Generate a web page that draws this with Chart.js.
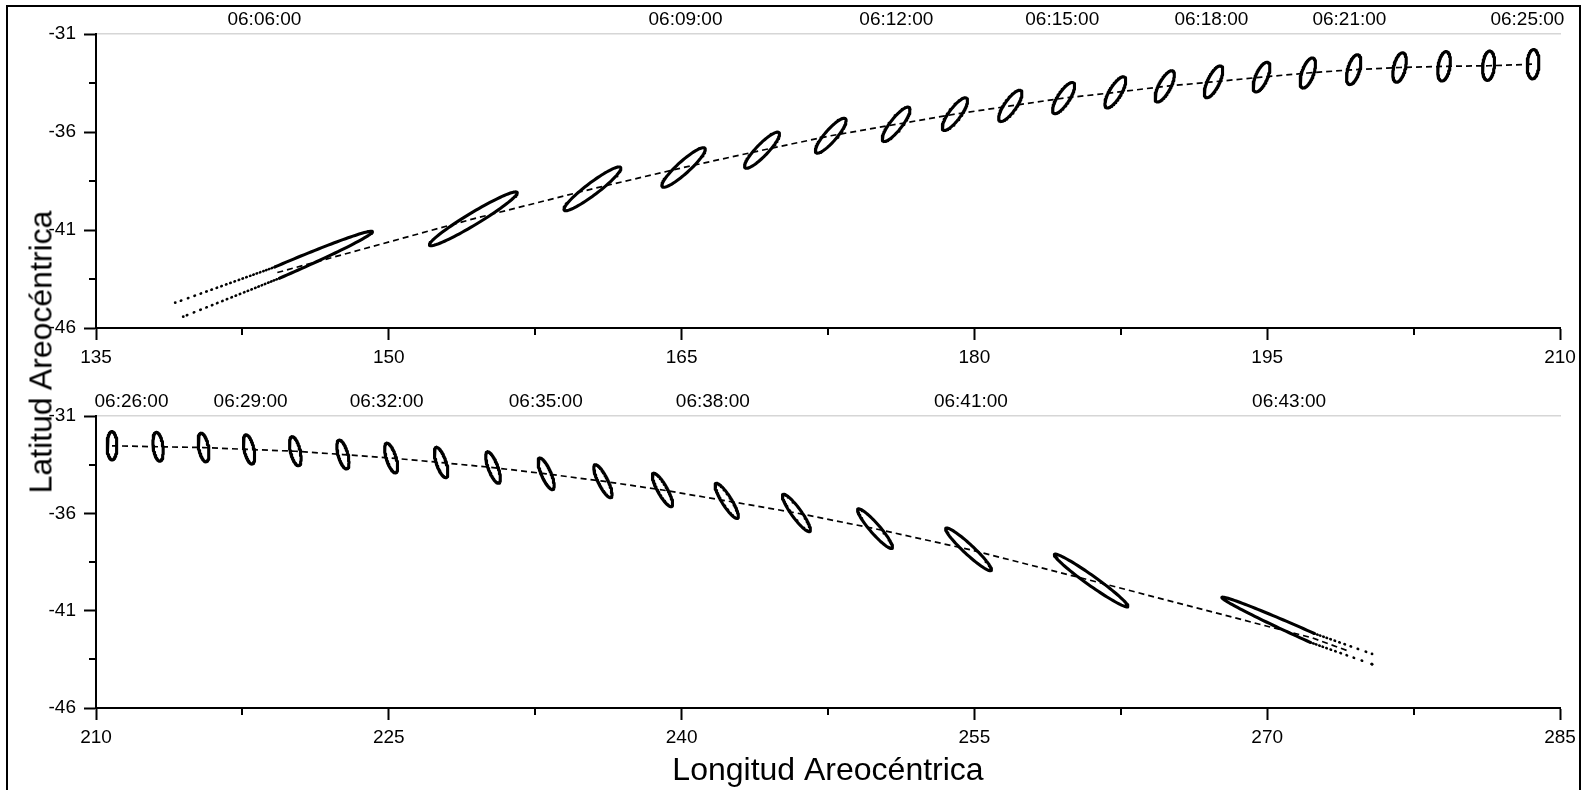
<!DOCTYPE html>
<html>
<head>
<meta charset="utf-8">
<title>Traza sobre Marte</title>
<script src="https://cdn.jsdelivr.net/npm/chart.js@4.4.1/dist/chart.umd.min.js"></script>
<style>
  html, body { margin: 0; padding: 0; background: #fff; }
  #wrap { position: relative; width: 1587px; height: 790px; overflow: hidden; font-family: "Liberation Sans", Arial, sans-serif; }
  #frame { position: absolute; left: 6px; top: 5px; width: 1575px; height: 820px; border: 2.5px solid #000; box-sizing: border-box; }
  canvas { position: absolute; left: 0; }
  #c1 { top: 0; }
  #c2 { top: 382px; }
  #ytitle { position: absolute; left: 41px; top: 352px; transform: translate(-50%, -50%) rotate(-90deg); font-size: 32px; white-space: nowrap; color: #000; }
</style>
</head>
<body>
<div id="wrap">
  <div id="frame"></div>
  <canvas id="c1" width="1587" height="384"></canvas>
  <canvas id="c2" width="1587" height="408"></canvas>
  <div id="ytitle">Latitud Areocéntrica</div>
</div>
<script>
// ---- 06:06 a 06:25 (panel superior) ----
const lonTop   = [144.29, 154.33, 160.43, 165.10, 169.12, 172.64, 175.99, 179.00, 181.84, 184.57,
                  187.22, 189.75, 192.25, 194.71, 197.08, 199.43, 201.78, 204.06, 206.34, 208.62];
const latTop   = [-43.17, -40.43, -38.90, -37.81, -36.93, -36.19, -35.61, -35.09, -34.67, -34.27,
                  -33.98, -33.67, -33.44, -33.20, -32.99, -32.82, -32.71, -32.65, -32.62, -32.54];
const majorTop = [5.30, 2.62, 1.81, 1.47, 1.25, 1.15, 1.09, 1.01, 0.95, 0.93,
                  0.91, 0.89, 0.89, 0.82, 0.81, 0.79, 0.77, 0.76, 0.75, 0.75];
const minorTop = [0.31, 0.31, 0.31, 0.31, 0.30, 0.30, 0.30, 0.30, 0.30, 0.30,
                  0.30, 0.30, 0.30, 0.30, 0.30, 0.30, 0.30, 0.30, 0.30, 0.30];
const tiltTop  = [23.2, 31, 37, 42, 46, 49, 52, 53.5, 55, 57, 59, 62, 64, 66, 70, 73, 76, 80, 84, 87];
const timesTop   = ['06:06:00', '06:09:00', '06:12:00', '06:15:00', '06:18:00', '06:21:00', '06:25:00'];
const timeLonTop = [143.63, 165.20, 176.00, 184.50, 192.14, 199.21, 208.33];
// puntos finales de las dos colas de la primera huella
const tailLonTop = [139.06, 139.47];
const tailLatTop = [-44.71, -45.42];

// ---- 06:26 a 06:43 (panel inferior) ----
const lonBot   = [210.82, 213.18, 215.51, 217.84, 220.21, 222.65, 225.12, 227.68, 230.34,
                  233.06, 235.97, 239.02, 242.31, 245.88, 249.91, 254.70, 260.98, 272.31];
const latBot   = [-32.53, -32.58, -32.62, -32.72, -32.81, -32.98, -33.16, -33.39, -33.65,
                  -33.97, -34.35, -34.80, -35.36, -35.98, -36.79, -37.85, -39.45, -42.40];
const majorBot = [0.73, 0.745, 0.745, 0.765, 0.765, 0.765, 0.795, 0.815, 0.855,
                  0.875, 0.935, 0.975, 1.055, 1.175, 1.335, 1.59, 2.31, 5.08];
const minorBot = [0.25, 0.25, 0.25, 0.25, 0.25, 0.25, 0.25, 0.25, 0.25,
                  0.25, 0.25, 0.25, 0.25, 0.25, 0.25, 0.25, 0.25, 0.25];
const tiltBot  = [90, 97, 100, 102, 103, 105, 107, 108, 110, 113, 116, 119, 122, 126, 131, 137, 144.5, 155.8];
const timesBot   = ['06:26:00', '06:29:00', '06:32:00', '06:35:00', '06:38:00', '06:41:00', '06:43:00'];
const timeLonBot = [211.82, 217.92, 224.89, 233.04, 241.60, 254.82, 271.12];
const tailLonBot = [275.37, 275.37];
const tailLatBot = [-43.75, -43.22];
// la traza sigue un poco mas alla de la ultima huella
const trackEndBot = [274.26, -43.11];

// ---- ejes ----
const latTicks = [-46, -41, -36, -31];
const latMinor = [-43.5, -38.5, -33.5];
const lonTicksTop = [135, 150, 165, 180, 195, 210];
const lonMinorTop = [142.5, 157.5, 172.5, 187.5, 202.5];
const lonTicksBot = [210, 225, 240, 255, 270, 285];
const lonMinorBot = [217.5, 232.5, 247.5, 262.5, 277.5];

Chart.defaults.font.family = '"Liberation Sans", Arial, sans-serif';
Chart.defaults.color = '#000';

// contorno de una elipse (centro, semiejes en grados, inclinacion) entre dos angulos
function outline(lon, lat, a, b, tilt, from, to, n) {
  const r = tilt * Math.PI / 180, ux = Math.cos(r), uy = Math.sin(r);
  const pts = [];
  for (let i = 0; i <= n; i++) {
    const t = (from + (to - from) * i / n) * Math.PI / 180;
    const p = a * Math.cos(t), q = b * Math.sin(t);
    pts.push({ x: lon + p * ux - q * uy, y: lat + p * uy + q * ux });
  }
  return pts;
}

// separacion creciente de los puntos de las colas
const dots = gaps => gaps.flatMap(g => [0.5, g]);
const longTail  = dots([2.5, 2.5, 2.5, 2.5, 3, 3, 3, 3, 3.5, 3.5, 3.5, 4, 4, 4, 4.5, 4.5, 5, 5, 5.5, 6, 6.5, 7, 7.5, 8, 9, 10]);
const shortTail = dots([2.5, 2.5, 3, 3, 3.5, 4, 4.5, 5, 6, 7, 8, 10]);

const minorTicks = {
  id: 'minorTicks',
  afterDraw(chart, args, opts) {
    const { ctx, chartArea, scales } = chart;
    ctx.save();
    ctx.strokeStyle = '#000';
    ctx.lineWidth = 2;
    ctx.beginPath();
    opts.x.forEach(v => {
      const px = Math.round(scales.x.getPixelForValue(v));
      ctx.moveTo(px, chartArea.bottom);
      ctx.lineTo(px, chartArea.bottom + 7);
    });
    opts.y.forEach(v => {
      const py = Math.round(scales.y.getPixelForValue(v));
      ctx.moveTo(chartArea.left - 7, py);
      ctx.lineTo(chartArea.left, py);
    });
    ctx.stroke();
    ctx.restore();
  }
};

function panel(id, p) {
  const sets = [];
  const track = p.lon.map((x, i) => ({ x, y: p.lat[i] }));
  if (p.trackEnd) track.push({ x: p.trackEnd[0], y: p.trackEnd[1] });
  sets.push({
    data: track, showLine: true, borderColor: '#000', borderWidth: 1.7,
    borderDash: [6, 4], pointRadius: 0
  });

  p.lon.forEach((lon, i) => {
    const limb = i === p.limb;
    const pts = limb
      ? outline(lon, p.lat[i], p.major[i], p.minor[i], p.tilt[i], -90, 90, 80)
      : outline(lon, p.lat[i], p.major[i], p.minor[i], p.tilt[i], 0, 360, 96);
    sets.push({
      data: pts, showLine: true, borderColor: '#000', borderWidth: 3.1,
      pointRadius: 0, borderJoinStyle: 'round', borderCapStyle: 'round'
    });
    if (limb) {
      // colas punteadas desde los extremos del semieje menor
      [1, -1].forEach((side, k) => {
        const start = outline(lon, p.lat[i], p.major[i], p.minor[i], p.tilt[i], 90 * side, 90 * side, 1)[0];
        sets.push({
          data: [start, { x: p.tailLon[k], y: p.tailLat[k] }],
          showLine: true, borderColor: '#000', borderWidth: 2.6,
          borderCapStyle: 'round', borderDash: p.tailDash,
          pointRadius: [0, 1.4], pointBackgroundColor: '#000', pointBorderWidth: 0
        });
      });
    }
  });

  return new Chart(document.getElementById(id), {
    type: 'scatter',
    data: { datasets: sets },
    options: {
      responsive: false,
      animation: false,
      events: [],
      layout: { padding: { left: 0, right: 27, top: 0, bottom: 0 } },
      plugins: {
        legend: { display: false },
        tooltip: { enabled: false },
        minorTicks: { x: p.lonMinor, y: latMinor }
      },
      scales: {
        x: {
          type: 'linear', position: 'bottom', min: p.lonTicks[0], max: p.lonTicks[p.lonTicks.length - 1],
          afterBuildTicks: s => { s.ticks = p.lonTicks.map(v => ({ value: v })); },
          afterFit: s => { s.height = p.xHeight; },
          ticks: { padding: 6, font: { size: 19 }, maxRotation: 0, autoSkip: false },
          grid: { drawOnChartArea: false, tickLength: 12, tickWidth: 2, tickColor: '#000' },
          border: { color: '#000', width: 2 },
          title: {
            display: !!p.xTitle, text: p.xTitle || '', font: { size: 32 },
            padding: { top: 0, bottom: 0 }
          }
        },
        xt: {
          type: 'linear', position: 'top', min: p.lonTicks[0], max: p.lonTicks[p.lonTicks.length - 1],
          afterBuildTicks: s => { s.ticks = p.timeLon.map(v => ({ value: v })); },
          afterFit: s => { s.height = 34; },
          ticks: {
            padding: 3, font: { size: 19 }, maxRotation: 0, autoSkip: false,
            callback: (v, i) => p.times[i]
          },
          grid: { drawOnChartArea: false, drawTicks: false },
          border: { color: '#d6d6d6', width: 1.5 }
        },
        y: {
          type: 'linear', min: latTicks[0], max: latTicks[latTicks.length - 1],
          afterBuildTicks: s => { s.ticks = latTicks.map(v => ({ value: v })); },
          afterFit: s => { s.width = 96; },
          ticks: { padding: 8, font: { size: 19 } },
          grid: { drawOnChartArea: false, tickLength: 12, tickWidth: 2, tickColor: '#000' },
          border: { color: '#000', width: 2 }
        }
      }
    },
    plugins: [minorTicks]
  });
}

panel('c1', {
  lon: lonTop, lat: latTop, major: majorTop, minor: minorTop, tilt: tiltTop, limb: 0,
  tailLon: tailLonTop, tailLat: tailLatTop, tailDash: longTail,
  times: timesTop, timeLon: timeLonTop,
  lonTicks: lonTicksTop, lonMinor: lonMinorTop, xHeight: 56
});

panel('c2', {
  lon: lonBot, lat: latBot, major: majorBot, minor: minorBot, tilt: tiltBot, limb: lonBot.length - 1,
  tailLon: tailLonBot, tailLat: tailLatBot, tailDash: shortTail, trackEnd: trackEndBot,
  times: timesBot, timeLon: timeLonBot,
  lonTicks: lonTicksBot, lonMinor: lonMinorBot, xHeight: 82,
  xTitle: 'Longitud Areocéntrica'
});
</script>
</body>
</html>
